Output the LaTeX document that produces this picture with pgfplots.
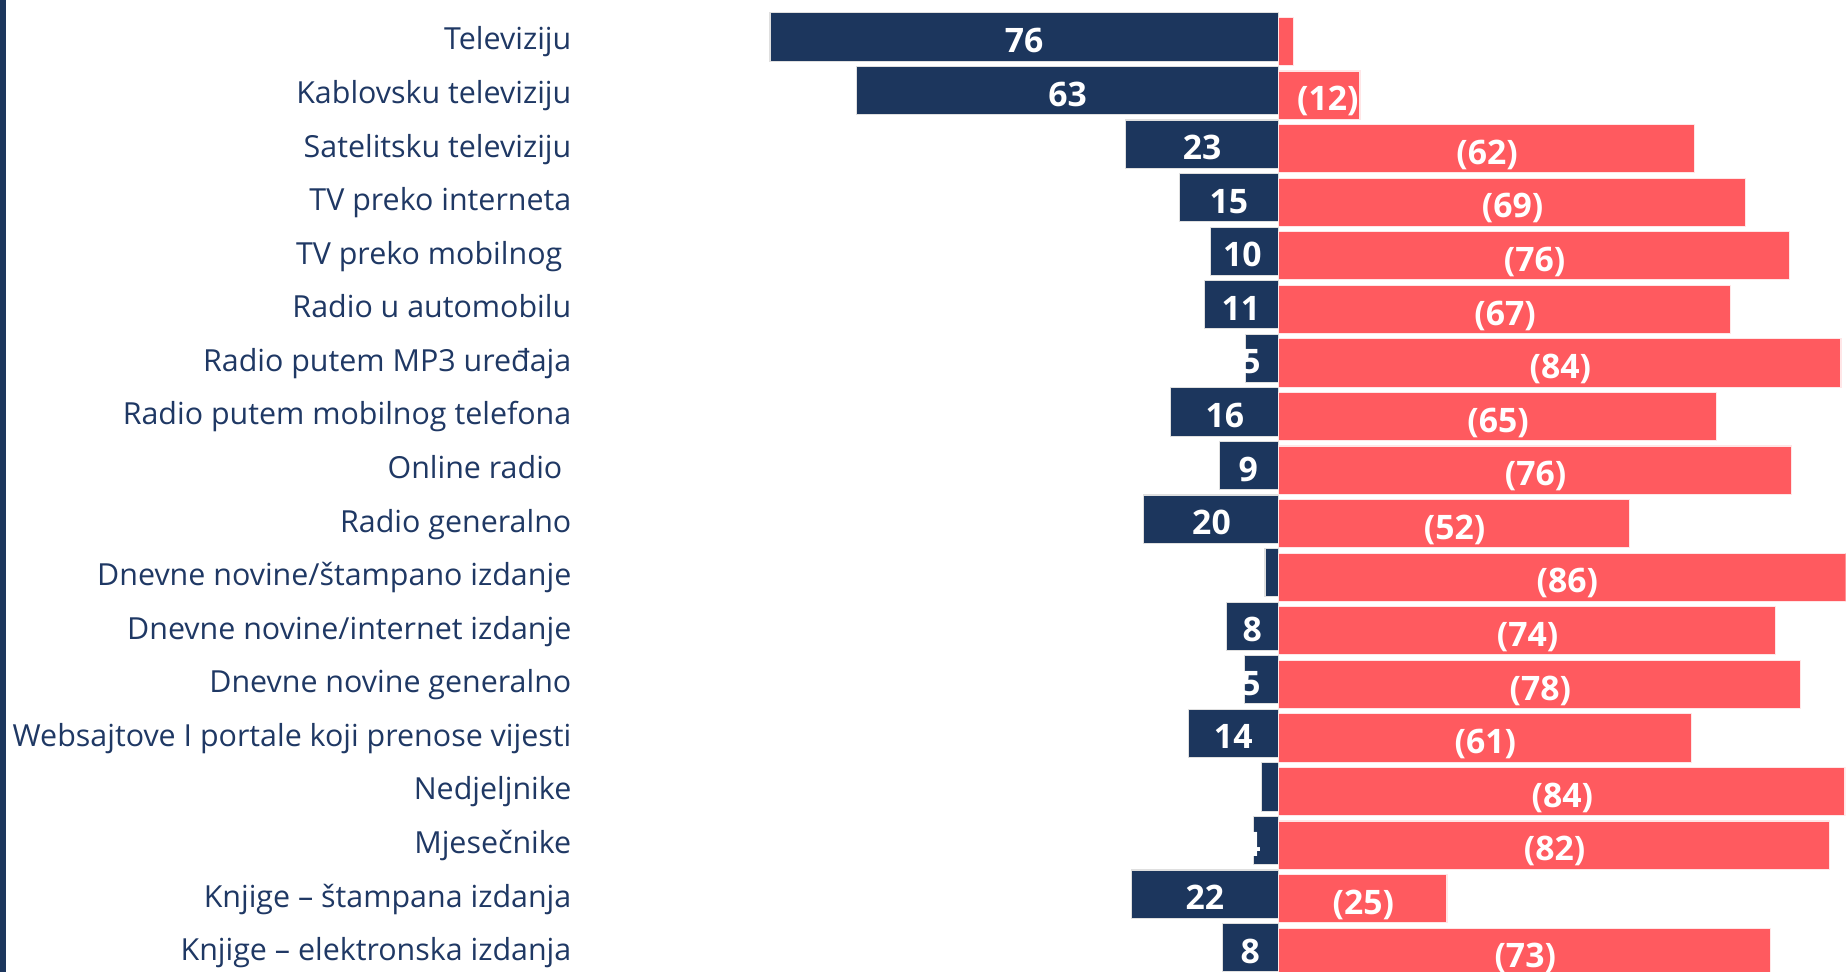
\documentclass[border=0pt]{standalone}
\usepackage{pgfplots}
\pgfplotsset{compat=1.18}
\usepackage{pgfplotstable}
\usepackage{fontspec}
\setmainfont{Open Sans}
\definecolor{navy}{RGB}{28,54,93}
\definecolor{coral}{RGB}{255,90,95}
\definecolor{labtxt}{RGB}{31,56,100}

\pgfplotstableread{
row navy red navylab redlab nlx rlx
0 76 2.0 76 {} -38.0 1.2
1 63 12.0 63 (12) -31.5 7.4
2 22.8 62.0 23 (62) -11.4 31.2
3 14.8 69.6 15 (69) -7.4 35.0
4 10.2 76.2 10 (76) -5.4 38.3
5 11.1 67.4 11 (67) -5.6 33.9
6 4.9 83.9 5 (84) -4.1 42.15
7 16.2 65.3 16 (65) -8.0 32.85
8 8.8 76.5 9 (76) -4.5 38.45
9 20.1 52.3 20 (52) -10.0 26.35
10 2.0 86.0 2 (86) -4.8 43.2
11 7.7 74.1 8 (74) -3.9 37.25
12 5.1 77.9 5 (78) -4.1 39.15
13 13.5 61.5 14 (61) -6.75 30.95
14 2.5 84.5 3 (84) -4.8 42.45
15 3.7 82.2 4 (82) -4.1 41.3
16 22.0 25.0 22 (25) -11.0 12.7
17 8.4 73.4 8 (73) -4.2 36.9
}\data

\begin{document}
\begin{tikzpicture}
\path[use as bounding box] (0,0) rectangle (18.46,9.72);
\clip (0,0) rectangle (18.46,9.72);
\fill[navy] (0,0) rectangle (0.06,9.72);
\begin{axis}[
  at={(5.72cm,9.72cm)}, anchor=north west,
  x=0.0669cm, y=0.5357cm, y dir=reverse,
  xmin=-105.6, xmax=84.8, ymin=-0.69, ymax=17.45,
  axis line style={draw=none},
  xtick=\empty,
  ytick={0,...,17},
  major tick length=0pt,
  yticklabels={Televiziju, Kablovsku televiziju, Satelitsku televiziju, TV preko interneta, TV preko mobilnog\kern0.09cm, Radio u automobilu, Radio putem MP3 uređaja, Radio putem mobilnog telefona, Online radio\kern0.09cm, Radio generalno, Dnevne novine/štampano izdanje, Dnevne novine/internet izdanje, Dnevne novine generalno, Websajtove I portale koji prenose vijesti, Nedjeljnike, Mjesečnike, Knjige – štampana izdanja, Knjige – elektronska izdanja},
  yticklabel style={font=\fontsize{8.65}{11}\selectfont, text=labtxt, inner sep=0pt, anchor=base east, yshift=-0.13cm},
  clip=true,
]
\addplot[xbar, bar shift=0pt, bar width=0.9, fill=navy, draw=white!75!gray, line width=0.3pt]
  table[x expr=-\thisrow{navy}, y=row] {\data};
\addplot[draw=none, nodes near coords, point meta=explicit symbolic,
  nodes near coords style={anchor=center, text=white, inner sep=0pt, font=\fontsize{9.6}{12}\selectfont\bfseries}]
  table[x=nlx, y expr=\thisrow{row}+0.066, meta=navylab] {\data};
\addplot[xbar, bar shift=0pt, bar width=0.9, fill=coral, draw=white!85!coral, line width=0.3pt]
  table[x expr=\thisrow{red}+0.2, y expr=\thisrow{row}+0.085] {\data};
\addplot[draw=none, nodes near coords, point meta=explicit symbolic,
  nodes near coords style={anchor=center, text=white, inner sep=0pt, font=\fontsize{9.6}{12}\selectfont\bfseries}]
  table[x=rlx, y expr=\thisrow{row}+0.2, meta=redlab] {\data};
\end{axis}
\end{tikzpicture}
\end{document}
